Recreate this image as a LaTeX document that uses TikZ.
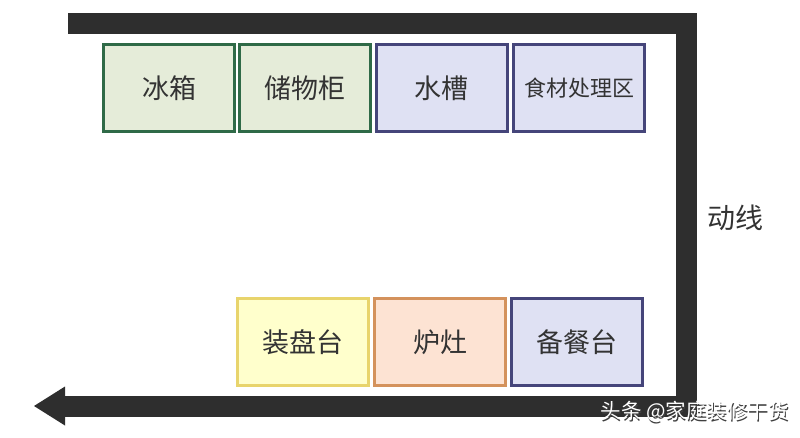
\documentclass[tikz,border=0pt]{standalone}
\usepackage{fontspec}
\newfontfamily\cjk{Noto Sans CJK SC}
\definecolor{txt}{HTML}{333333}
\definecolor{bar}{HTML}{2E2E2E}
\definecolor{gfill}{HTML}{E5ECD9}
\definecolor{gdraw}{HTML}{2F6A47}
\definecolor{bfill}{HTML}{DFE1F3}
\definecolor{bdraw}{HTML}{45457A}
\definecolor{yfill}{HTML}{FFFFCC}
\definecolor{ydraw}{HTML}{E8D46C}
\definecolor{ofill}{HTML}{FDE3D3}
\definecolor{odraw}{HTML}{D4925C}
\tikzset{
  zone/.style={draw, line width=3pt, minimum width=131pt, minimum height=87pt, inner sep=0pt, font=\cjk\fontsize{27}{32}\selectfont, text=txt},
  greenzone/.style={zone, fill=gfill, draw=gdraw},
  bluezone/.style={zone, fill=bfill, draw=bdraw},
  yellowzone/.style={zone, fill=yfill, draw=ydraw},
  orangezone/.style={zone, fill=ofill, draw=odraw},
  flow/.style={draw=bar, line width=21pt, line join=miter, line cap=butt}
}
\begin{document}
\begin{tikzpicture}[x=1pt,y=-1pt]
\useasboundingbox (0,0) rectangle (800,437);
\fill[white] (0,0) rectangle (800,437);
% flow path
\coordinate (s) at (68,23.5);
\coordinate (c1) at (686.5,23.5);
\coordinate (c2) at (686.5,406);
\coordinate (e) at (64,406);
\draw[flow] (s) -- (c1) -- (c2) -- (e);
\coordinate (hA) at (65,386.5);
\coordinate (hT) at (34,406);
\coordinate (hB) at (65,425.5);
\fill[bar] (hA) -- (hT) -- (hB) -- cycle;
% top row
\node[greenzone] (fridge) at (169,88) {冰箱};
\node[greenzone] (cabinet) at (305,88) {储物柜};
\node[bluezone] (sink) at (441.5,88) {水槽};
\node[bluezone, font=\cjk\fontsize{22}{26}\selectfont] (prep) at (579,88) {食材处理区};
% bottom row
\node[yellowzone] (plate) at (303,342) {装盘台};
\node[orangezone] (stove) at (440,342) {炉灶};
\node[bluezone] (serve) at (577,342) {备餐台};
% label
\node[font=\cjk\fontsize{28}{32}\selectfont, text=txt] (lbl) at (735,218) {动线};
% watermark
\node[font=\cjk\fontsize{20.5}{24}\selectfont, text=black!75, anchor=west] (wm0) at (598.2,413.2) {头条 @家庭装修干货};
\node[font=\cjk\fontsize{20.5}{24}\selectfont, text=white, anchor=west] (wm) at (597,412) {头条 @家庭装修干货};
\end{tikzpicture}
\end{document}
